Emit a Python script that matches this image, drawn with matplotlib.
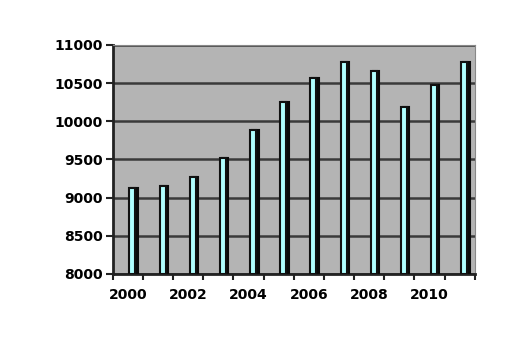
import numpy as np
import matplotlib
matplotlib.use("Agg")
import matplotlib.pyplot as plt

# data
years = [2000, 2001, 2002, 2003, 2004, 2005, 2006, 2007, 2008, 2009, 2010, 2011]
values = [9120, 9150, 9270, 9520, 9890, 10250, 10560, 10770, 10660, 10180, 10470, 10770]
yticks = [8000, 8500, 9000, 9500, 10000, 10500, 11000]
xlabels = ["2000", "2002", "2004", "2006", "2008", "2010"]

fig = plt.figure(figsize=(5.2, 3.45), dpi=100)
ax = fig.add_axes([0.217, 0.206, 0.696, 0.664])
ax.set_facecolor("#b4b4b4")

x = np.arange(len(years))
base = 8000
h = np.array(values) - base
# dark side of the 3D-ish bar, then the cyan face
ax.bar(x + 0.22, h, width=0.22, bottom=base, color="#0a0a0a",
       edgecolor="#0a0a0a", linewidth=1.5, zorder=3)
ax.bar(x + 0.15, h, width=0.2, bottom=base, color="#b0ffff",
       edgecolor="#111111", linewidth=1.5, zorder=4)

ax.set_xlim(-0.5, len(years) - 0.5)
ax.set_ylim(8000, 11000)
ax.set_yticks(yticks)
ax.set_yticklabels([str(v) for v in yticks], fontsize=10, fontweight="bold")
ax.yaxis.grid(True, color="#3a3a3a", linewidth=1.8, zorder=1)
ax.set_axisbelow(True)

# ticks at category boundaries, labels every second year
ax.set_xticks(np.arange(len(years) + 1) - 0.5)
ax.set_xticklabels([])
ax.set_xticks(x[::2], minor=True)
ax.set_xticklabels(xlabels, minor=True, fontsize=10, fontweight="bold")
ax.tick_params(axis="x", which="minor", length=0, pad=10)
ax.tick_params(axis="x", which="major", length=4, width=1.5, color="#222222")
ax.tick_params(axis="y", length=5, width=1.5, color="#222222", pad=2)

ax.spines["left"].set_linewidth(2)
ax.spines["left"].set_color("#222222")
ax.spines["bottom"].set_linewidth(2)
ax.spines["bottom"].set_color("#222222")
ax.spines["top"].set_color("#888888")
ax.spines["right"].set_color("#888888")

plt.savefig("out.png", dpi=100)
